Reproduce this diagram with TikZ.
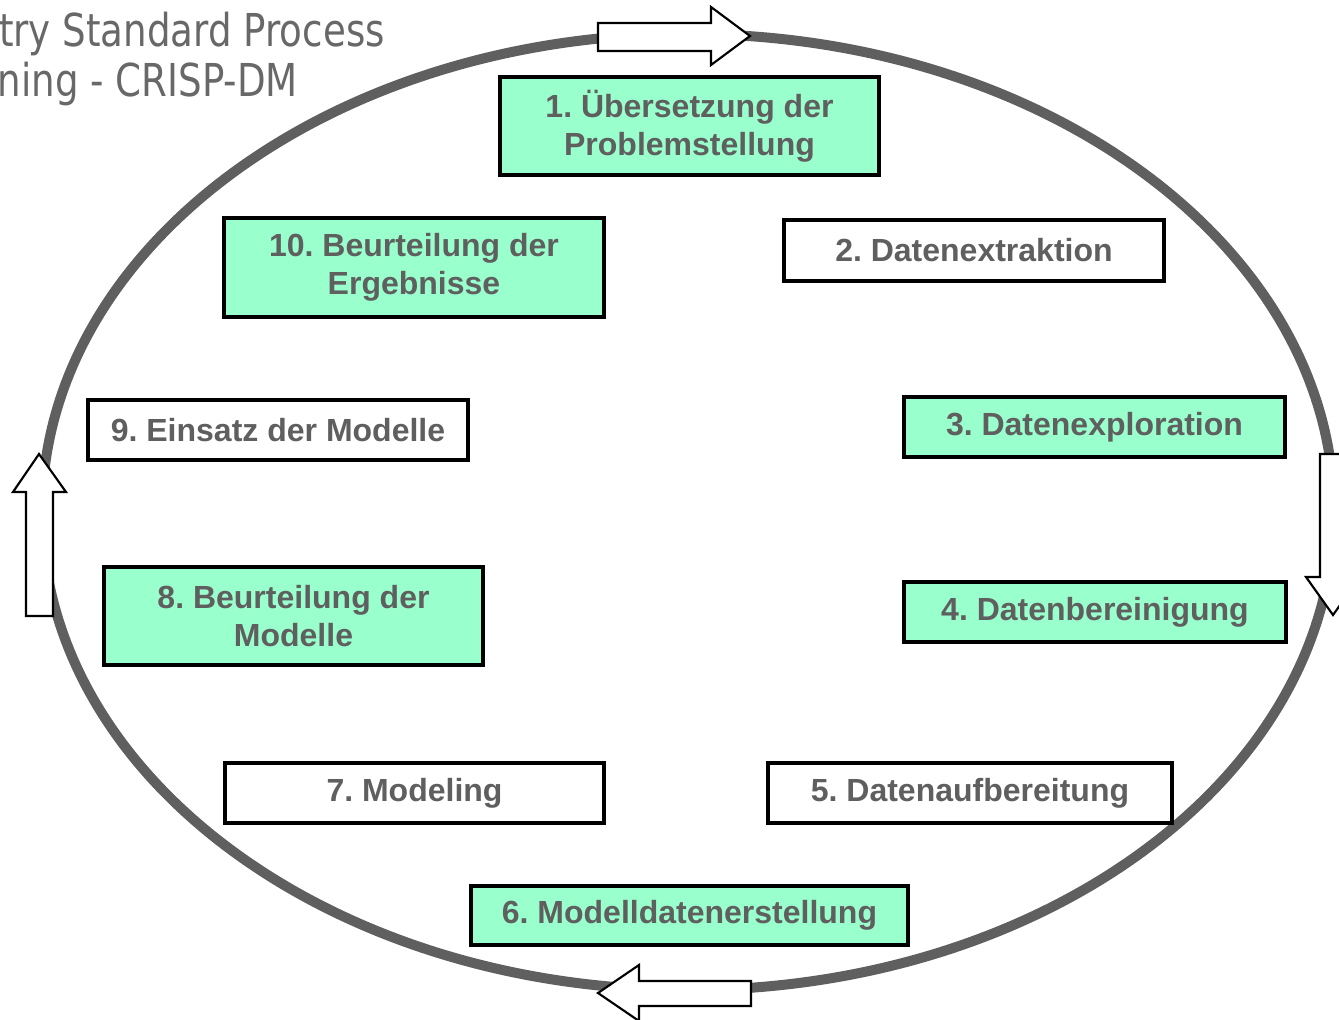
\documentclass[tikz,border=0pt]{standalone}
\usepackage{fontspec}
\setmainfont{Liberation Sans}
\newfontfamily\titlefont{DejaVu Sans}
\usepackage{graphicx}
\frenchspacing
\definecolor{boxgreen}{HTML}{99FFCC}
\definecolor{txtgray}{HTML}{5F5F5F}
\definecolor{ringgray}{HTML}{5F5F5F}
\definecolor{titlegray}{HTML}{686868}
\tikzset{
  stepbox/.style={draw=black, line width=3pt, text=txtgray, align=center, inner sep=0pt,
    font=\fontsize{24pt}{28.5pt}\selectfont\bfseries},
  greenbox/.style={stepbox, fill=boxgreen},
  whitebox/.style={stepbox, fill=white},
  ring/.style={draw=ringgray, line width=7.5pt},
  blockarrow/.style={draw=black, fill=white, line width=1.6pt, line join=miter},
  titletext/.style={text=titlegray, inner sep=0pt, font=\titlefont\fontsize{34pt}{40pt}\selectfont}
}
\begin{document}
\begin{tikzpicture}[x=0.75pt, y=-0.75pt]
\useasboundingbox (0,0) rectangle (1339,1020);
% title (partly outside the page)
\node[titletext, anchor=base east] (title1) at (385,47) {\scalebox{0.82}[1]{try Standard Process}};
\node[titletext, anchor=base east] (title2) at (298,97) {\scalebox{0.82}[1]{ning - CRISP-DM}};
% ring
\draw[ring] (688,512) ellipse [x radius=484.5pt, y radius=358.5pt];
% block arrows on the ring
\draw[blockarrow] (598,23) -- (711,23) -- (711,7) -- (750,36) -- (711,65) -- (711,51) -- (598,51) -- cycle;
\draw[blockarrow] (1320,454) -- (1346,454) -- (1346,577) -- (1360,577) -- (1333,615) -- (1306,577) -- (1320,577) -- cycle;
\draw[blockarrow] (751,981) -- (639,981) -- (639,965) -- (598,993) -- (639,1021) -- (639,1006) -- (751,1006) -- cycle;
\draw[blockarrow] (26,616) -- (26,492) -- (13,492) -- (39,454) -- (66,492) -- (53,492) -- (53,616) -- cycle;
% steps
\node[greenbox, minimum width=284.25pt, minimum height=73.5pt] (s1) at (689.5,126) {1. Übersetzung der\\Problemstellung};
\node[whitebox, minimum width=285pt, minimum height=45.75pt] (s2) at (974,250.5) {2. Datenextraktion};
\node[greenbox, minimum width=285.75pt, minimum height=45pt] (s3) at (1094.5,427) {3. Datenexploration};
\node[greenbox, minimum width=286.5pt, minimum height=45pt] (s4) at (1095,612) {4. Datenbereinigung};
\node[whitebox, minimum width=303pt, minimum height=45pt] (s5) at (970,793) {5. Datenaufbereitung};
\node[greenbox, minimum width=327.75pt, minimum height=44.25pt] (s6) at (689.5,915.5) {6. Modelldatenerstellung};
\node[whitebox, minimum width=284.25pt, minimum height=45pt] (s7) at (414.5,793) {7. Modeling};
\node[greenbox, minimum width=284.25pt, minimum height=73.5pt] (s8) at (293.5,616) {8. Beurteilung der\\Modelle};
\node[whitebox, minimum width=285pt, minimum height=45pt] (s9) at (278,430) {9. Einsatz der Modelle};
\node[greenbox, minimum width=285pt, minimum height=74.25pt] (s10) at (414,267.5) {10. Beurteilung der\\Ergebnisse};
\end{tikzpicture}
\end{document}
